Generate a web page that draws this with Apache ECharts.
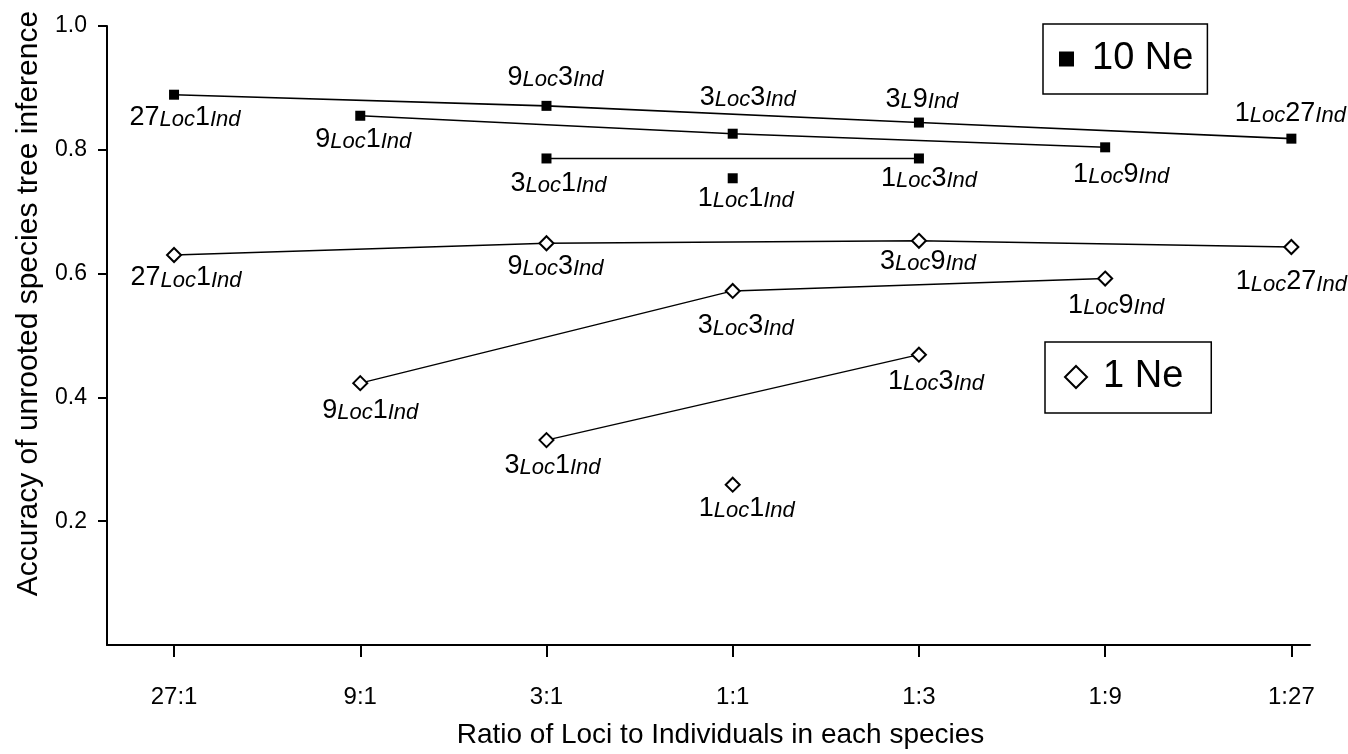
<!DOCTYPE html>
<html>
<head>
<meta charset="utf-8">
<script src="https://cdn.jsdelivr.net/npm/echarts@6/dist/echarts.min.js"></script>
<style>
  html, body { margin: 0; padding: 0; background: #fff; }
  #chart { width: 1348px; height: 754px; }
</style>
</head>
<body>
<div id="chart"></div>
<script>
// x categories (ratio of loci to individuals)
const ratios = ['27:1', '9:1', '3:1', '1:1', '1:3', '1:9', '1:27'];
const yTicks = [0.2, 0.4, 0.6, 0.8, 1.0];

// 10 Ne: accuracy per ratio (null = no point on that line)
const ne10Total27 = [0.889, null, 0.871, null, 0.844, null, 0.818];
const ne10Total9 = [null, 0.855, null, 0.826, null, 0.804, null];
const ne10Total3 = [null, null, 0.786, null, 0.786, null, null];
const ne10Total1 = [null, null, null, 0.754, null, null, null];

// 1 Ne
const ne1Total27 = [0.630, null, 0.649, null, 0.653, null, 0.643];
const ne1Total9 = [null, 0.423, null, 0.572, null, 0.592, null];
const ne1Total3 = [null, null, 0.331, null, 0.469, null, null];
const ne1Total1 = [null, null, null, 0.259, null, null, null];

// point names
const ne10Names27 = ['27Loc1Ind', null, '9Loc3Ind', null, '3L9Ind', null, '1Loc27Ind'];
const ne10Names9 = [null, '9Loc1Ind', null, '3Loc3Ind', null, '1Loc9Ind', null];
const ne10Names3 = [null, null, '3Loc1Ind', null, '1Loc3Ind', null, null];
const ne10Names1 = [null, null, null, '1Loc1Ind', null, null, null];
const ne1Names27 = ['27Loc1Ind', null, '9Loc3Ind', null, '3Loc9Ind', null, '1Loc27Ind'];
const ne1Names9 = [null, '9Loc1Ind', null, '3Loc3Ind', null, '1Loc9Ind', null];
const ne1Names3 = [null, null, '3Loc1Ind', null, '1Loc3Ind', null, null];
const ne1Names1 = [null, null, null, '1Loc1Ind', null, null, null];

// label placement (px from the marker)
const ne10Off27 = [[11, 23], null, [9, -28], null, [3, -23], null, [-1, -25]];
const ne10Off9 = [null, [3, 24], null, [15, -36], null, [16, 27], null];
const ne10Off3 = [null, null, [12, 25], null, [10, 20], null, null];
const ne10Off1 = [null, null, null, [13, 20], null, null, null];
const ne1Off27 = [[12, 23], null, [9, 23], null, [9, 21], null, [0, 35]];
const ne1Off9 = [null, [10, 27], null, [13, 35], null, [11, 27], null];
const ne1Off3 = [null, null, [6, 25], null, [17, 27], null, null];
const ne1Off1 = [null, null, null, [14, 24], null, null, null];

const FONT = '"Liberation Sans", Arial, Helvetica, sans-serif';

function richName(name) {
    const m = name.match(/^(\d+)([A-Za-z]+)(\d+)([A-Za-z]+)$/);
    return '{n|' + m[1] + '}{s|' + m[2] + '}{n|' + m[3] + '}{s|' + m[4] + '}';
}

function points(values, names, offsets) {
    const out = [];
    values.forEach((v, i) => {
        if (v === null) return;
        out.push({
            value: [i, v],
            name: names[i],
            label: { offset: offsets[i] }
        });
    });
    return out;
}

const labelBase = {
    show: true,
    position: 'inside',
    color: '#000',
    formatter: p => richName(p.name),
    rich: {
        n: { fontFamily: FONT, fontSize: 27, color: '#000', verticalAlign: 'bottom' },
        s: { fontFamily: FONT, fontSize: 22, fontStyle: 'italic', color: '#000', verticalAlign: 'bottom' }
    }
};

function squareSeries(values, names, offsets) {
    return {
        name: '10 Ne',
        type: 'line',
        data: points(values, names, offsets),
        symbol: 'rect',
        symbolSize: 10,
        itemStyle: { color: '#000' },
        lineStyle: { color: '#000', width: 1.6 },
        label: labelBase,
        emphasis: { disabled: true },
        z: 3
    };
}

function diamondSeries(values, names, offsets) {
    return {
        name: '1 Ne',
        type: 'line',
        data: points(values, names, offsets),
        symbol: 'diamond',
        symbolSize: 14,
        itemStyle: { color: '#fff', borderColor: '#000', borderWidth: 2 },
        lineStyle: { color: '#000', width: 1.4 },
        label: labelBase,
        emphasis: { disabled: true },
        z: 3
    };
}

const chart = echarts.init(document.getElementById('chart'), null, { renderer: 'canvas' });

chart.setOption({
    animation: false,
    backgroundColor: '#fff',
    grid: { left: 107, right: 38, top: 26, bottom: 106, containLabel: false },
    legend: [
        {
            left: 1043, top: 24,
            data: [{ name: '10 Ne', icon: 'rect' }],
            itemWidth: 15, itemHeight: 15,
            padding: [15, 14, 15, 16],
            borderColor: '#000', borderWidth: 1.5,
            selectedMode: false,
            textStyle: { fontFamily: FONT, fontSize: 38, color: '#000', lineHeight: 40, padding: [0, 0, 0, 13] }
        },
        {
            left: 1045, top: 342,
            data: [{ name: '1 Ne', icon: 'diamond' }],
            itemWidth: 22, itemHeight: 22,
            padding: [15, 28, 16, 19],
            borderColor: '#000', borderWidth: 1.5,
            selectedMode: false,
            textStyle: { fontFamily: FONT, fontSize: 38, color: '#000', lineHeight: 40, padding: [0, 0, 0, 11] }
        }
    ],
    xAxis: {
        type: 'value',
        min: -0.36,
        max: 6.1,
        name: 'Ratio of Loci to Individuals in each species',
        nameLocation: 'middle',
        nameGap: 76,
        nameTextStyle: { fontFamily: FONT, fontSize: 28, color: '#000', padding: [0, 0, 0, 24] },
        splitLine: { show: false },
        axisLine: { onZero: false, lineStyle: { color: '#000', width: 2 } },
        axisTick: {
            customValues: ratios.map((r, i) => i),
            length: 12,
            lineStyle: { color: '#000', width: 2 }
        },
        axisLabel: {
            customValues: ratios.map((r, i) => i),
            formatter: v => ratios[Math.round(v)],
            margin: 40,
            fontFamily: FONT,
            fontSize: 24,
            color: '#000'
        }
    },
    yAxis: {
        type: 'value',
        min: 0,
        max: 1,
        name: 'Accuracy of unrooted species tree inference',
        nameLocation: 'middle',
        nameGap: 63,
        nameTextStyle: { fontFamily: FONT, fontSize: 30, color: '#000', padding: [0, 0, 0, 64] },
        splitLine: { show: false },
        axisLine: { show: true, onZero: false, lineStyle: { color: '#000', width: 2 } },
        axisTick: {
            customValues: yTicks,
            length: 9,
            lineStyle: { color: '#000', width: 2 }
        },
        axisLabel: {
            customValues: yTicks,
            formatter: v => v.toFixed(1),
            margin: 20,
            fontFamily: FONT,
            fontSize: 23,
            color: '#000'
        }
    },
    series: [
        squareSeries(ne10Total27, ne10Names27, ne10Off27),
        squareSeries(ne10Total9, ne10Names9, ne10Off9),
        squareSeries(ne10Total3, ne10Names3, ne10Off3),
        squareSeries(ne10Total1, ne10Names1, ne10Off1),
        diamondSeries(ne1Total27, ne1Names27, ne1Off27),
        diamondSeries(ne1Total9, ne1Names9, ne1Off9),
        diamondSeries(ne1Total3, ne1Names3, ne1Off3),
        diamondSeries(ne1Total1, ne1Names1, ne1Off1)
    ]
});
</script>
</body>
</html>
